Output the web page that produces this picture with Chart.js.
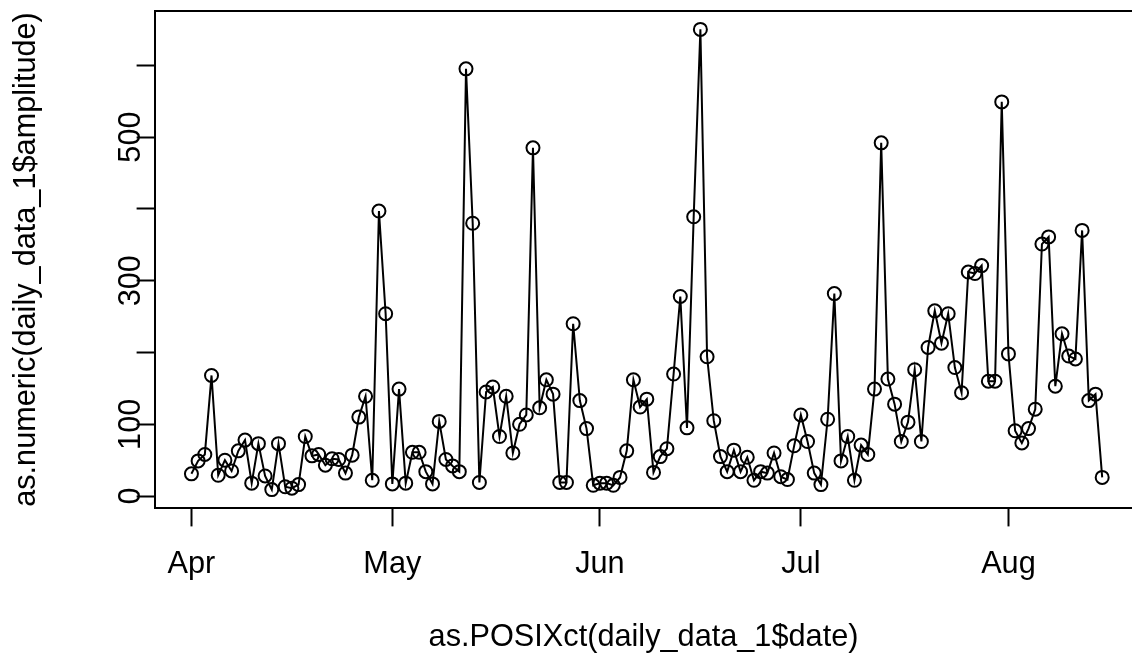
<!DOCTYPE html>
<html>
<head>
<meta charset="utf-8">
<script src="https://cdn.jsdelivr.net/npm/chart.js@4"></script>
<style>
  html, body { margin: 0; padding: 0; overflow: hidden; background: #fff; }
  #ampChart { display: block; width: 1132px; height: 656px; }
</style>
</head>
<body>
<canvas id="ampChart" width="1132" height="656"></canvas>
<script>
// daily amplitude, Apr 1 .. Aug 15
const aprValues = [31, 49, 58, 168, 29, 50, 35, 63, 78, 18, 73, 28, 9, 73, 13, 11, 16, 83, 56, 58,
                   43, 52, 51, 32, 57, 110, 139, 22, 397, 254];
const mayValues = [17, 149, 18, 61, 61, 34, 17, 104, 51, 42, 34, 595, 380, 19, 145, 152, 83, 139, 60, 100,
                   113, 485, 123, 162, 142, 19, 19, 240, 133, 94, 15];
const junValues = [18, 18, 15, 26, 63, 162, 124, 135, 33, 55, 66, 170, 278, 95, 389, 650, 194, 105, 55, 34,
                   64, 34, 54, 22, 34, 32, 60, 27, 23, 70];
const julValues = [113, 76, 32, 16, 107, 282, 49, 83, 22, 71, 58, 149, 492, 163, 128, 76, 103, 176, 76, 207,
                   258, 213, 254, 179, 144, 312, 310, 321, 160, 160, 549];
const augValues = [198, 91, 74, 94, 121, 351, 361, 153, 226, 195, 191, 370, 133, 142, 26];

// x axis: days since Apr 1
const monthLabels = ['Apr', 'May', 'Jun', 'Jul', 'Aug'];
const monthStarts = [0, 30, 61, 91, 122];
const yTicks = [0, 100, 200, 300, 400, 500, 600];
const yLabelShown = [0, 100, 300, 500];

const amplitude = [].concat(aprValues, mayValues, junValues, julValues, augValues);
const points = amplitude.map((v, i) => ({ x: i, y: v }));

const FONT = { family: '"Liberation Sans", Arial, Helvetica, sans-serif', size: 30.7 };

// R style frame; the right side of the box is cut off by the page edge
const boxPlugin = {
    id: 'box',
    afterDraw(chart) {
        const a = chart.chartArea;
        const ctx = chart.ctx;
        const r = chart.width + 4;
        ctx.save();
        ctx.strokeStyle = '#000';
        ctx.lineWidth = 2;
        ctx.beginPath();
        ctx.moveTo(r, a.top);
        ctx.lineTo(a.left, a.top);
        ctx.lineTo(a.left, a.bottom);
        ctx.lineTo(r, a.bottom);
        ctx.stroke();
        ctx.restore();
    }
};

const ctx = document.getElementById('ampChart').getContext('2d');
const ampChart = new Chart(ctx, {
    type: 'line',
    data: {
        datasets: [{
            data: points,
            borderColor: '#000',
            borderWidth: 2,
            pointRadius: 6.5,
            pointBorderWidth: 2,
            pointBorderColor: '#000',
            pointBackgroundColor: 'rgba(0,0,0,0)',
            tension: 0,
            fill: false
        }]
    },
    options: {
        responsive: false,
        animation: false,
        layout: {
            autoPadding: false,
            padding: { top: 11, left: 0, right: 0, bottom: 0 }
        },
        plugins: {
            legend: { display: false },
            tooltip: { enabled: false }
        },
        scales: {
            x: {
                type: 'linear',
                min: -5.44,
                max: 140.45,
                afterBuildTicks(scale) {
                    scale.ticks = monthStarts.map(v => ({ value: v }));
                },
                afterFit(scale) { scale.height = 148; },
                grid: {
                    drawOnChartArea: false,
                    drawTicks: true,
                    tickLength: 18.4,
                    tickColor: '#000',
                    tickWidth: 2
                },
                border: { display: false },
                ticks: {
                    autoSkip: false,
                    maxRotation: 0,
                    padding: 19.6,
                    color: '#000',
                    font: FONT,
                    callback(v) {
                        const k = monthStarts.indexOf(v);
                        return k >= 0 ? monthLabels[k] : '';
                    }
                },
                title: {
                    display: true,
                    text: 'as.POSIXct(daily_data_1$date)',
                    color: '#000',
                    font: FONT,
                    padding: { top: 0, bottom: 0 }
                }
            },
            y: {
                min: -16.6,
                max: 675.6,
                afterBuildTicks(scale) {
                    scale.ticks = yTicks.map(v => ({ value: v }));
                },
                afterFit(scale) { scale.width = 155; },
                grid: {
                    drawOnChartArea: false,
                    drawTicks: true,
                    tickLength: 18.4,
                    tickColor: '#000',
                    tickWidth: 2
                },
                border: { display: false },
                ticks: {
                    autoSkip: false,
                    minRotation: 90,
                    maxRotation: 90,
                    crossAlign: 'center',
                    padding: -20.4,
                    color: '#000',
                    font: FONT,
                    callback(v) {
                        return yLabelShown.includes(v) ? String(v) : '';
                    }
                },
                title: {
                    display: true,
                    text: 'as.numeric(daily_data_1$amplitude)',
                    color: '#000',
                    font: FONT,
                    padding: { top: 8, bottom: 0 }
                }
            }
        }
    },
    plugins: [boxPlugin]
});
</script>
</body>
</html>
